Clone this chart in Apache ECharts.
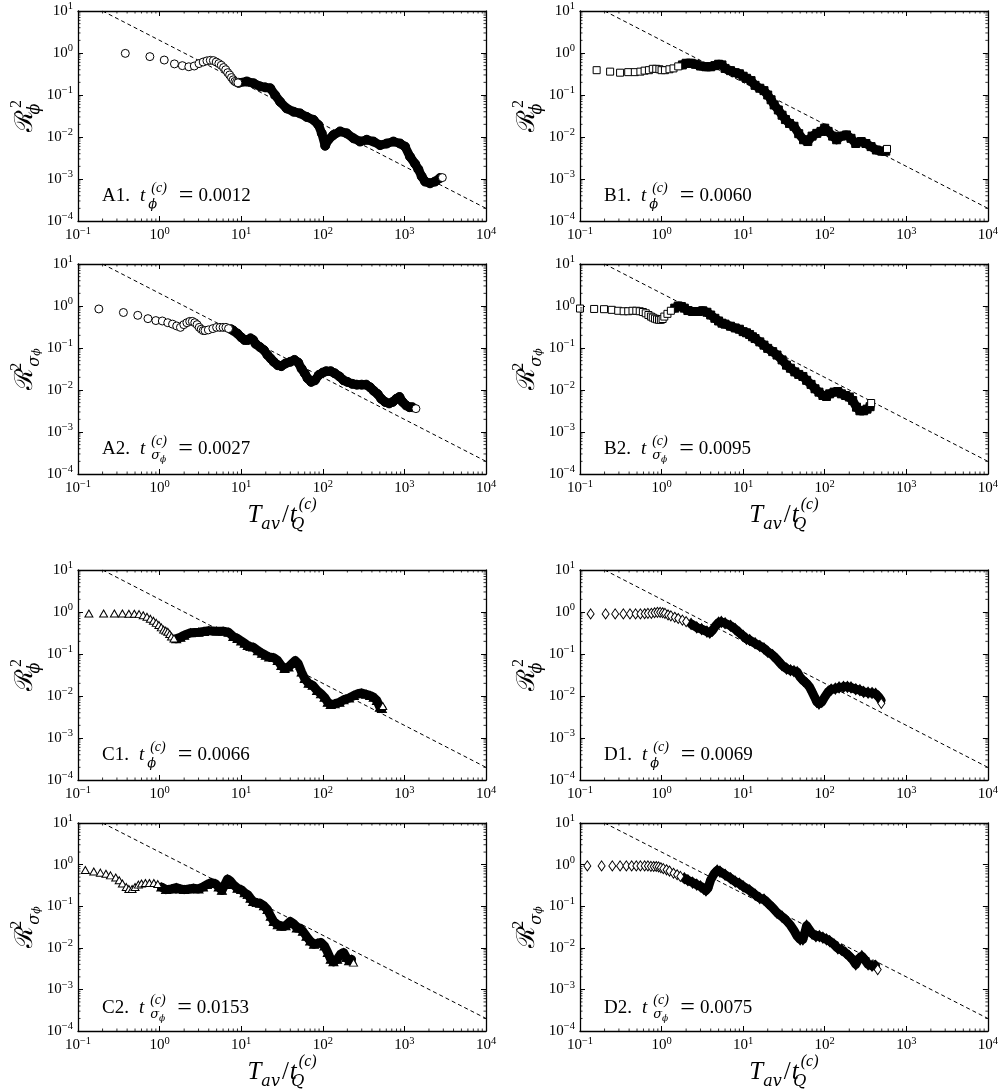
<!DOCTYPE html>
<html><head><meta charset="utf-8">
<script src="https://cdn.jsdelivr.net/npm/echarts@6/dist/echarts.min.js"></script>
<style>html,body{margin:0;padding:0;background:#fff}#c{width:1001px;height:1091px}</style>
</head><body><div id="c"></div>
<script>
// ---------- data ----------
const dashX = [0.2, 10000];
const dashY = [10, 0.0002];
const xTickValues = [0.1, 1, 10, 100, 1000, 10000];
const yTickValues = [0.0001, 0.001, 0.01, 0.1, 1, 10];

const A1_open = [[0.38,0.98],[0.76,0.82],[1.14,0.68],[1.52,0.55],[1.9,0.50],[2.28,0.47],[2.66,0.49],[3.04,0.56],[3.42,0.61],[3.8,0.65],[4.18,0.67],[4.56,0.66],[4.94,0.61],[5.32,0.56],[5.7,0.51],[6.08,0.45],[6.46,0.40],[6.84,0.34],[7.22,0.30],[7.6,0.26],[7.98,0.23],[8.36,0.21],[8.74,0.20],[9.12,0.195]];
const A1_band = [[9.3,0.195],[11.7,0.21],[14.2,0.19],[17.1,0.16],[19.7,0.152],[22.7,0.145],[26,0.10],[30,0.069],[36,0.048],[43.8,0.040],[52.7,0.0365],[63.6,0.030],[76.9,0.0256],[88.5,0.0193],[97.2,0.0122],[107,0.0062],[117,0.0086],[135,0.0112],[163,0.0136],[197,0.0122],[238,0.0093],[286,0.0078],[346,0.0086],[417,0.0078],[503,0.0064],[608,0.0070],[733,0.0078],[885,0.0070],[1019,0.0059],[1172,0.0034],[1352,0.0023],[1484,0.0017],[1630,0.00115],[1792,0.00087],[2061,0.00079],[2375,0.00087],[2736,0.00106]];
const A1_end = [[2917,0.00108]];

const B1_open = [[0.16,0.39],[0.234,0.36],[0.31,0.34],[0.39,0.35],[0.47,0.35],[0.55,0.36],[0.62,0.38],[0.70,0.39],[0.78,0.42],[0.86,0.42],[0.94,0.41],[1.0,0.39],[1.1,0.39],[1.25,0.41],[1.4,0.43],[1.6,0.48]];
const B1_band = [[1.8,0.52],[2.0,0.57],[2.3,0.57],[2.6,0.54],[3.0,0.49],[3.5,0.47],[4.0,0.47],[4.5,0.50],[5.0,0.54],[5.5,0.52],[6,0.43],[7,0.38],[8,0.34],[9,0.32],[10,0.28],[11,0.25],[12.5,0.22],[14,0.17],[16,0.145],[18,0.127],[20,0.10],[22,0.077],[24,0.058],[27,0.044],[30,0.033],[33,0.026],[37,0.021],[42,0.018],[48,0.012],[55,0.0086],[62,0.0078],[70,0.0105],[80,0.0122],[90,0.0136],[100,0.0162],[110,0.0136],[125,0.0105],[140,0.0086],[160,0.0105],[185,0.0112],[210,0.0093],[240,0.0070],[280,0.0078],[320,0.0070],[370,0.0059],[430,0.0049],[500,0.0046],[560,0.0046]];
const B1_end = [[580,0.0052]];

const A2_open = [[0.18,0.85],[0.36,0.70],[0.54,0.60],[0.72,0.50],[0.90,0.45],[1.08,0.44],[1.26,0.40],[1.44,0.37],[1.62,0.335],[1.8,0.31],[1.98,0.36],[2.16,0.40],[2.34,0.43],[2.52,0.43],[2.7,0.40],[2.88,0.36],[3.06,0.31],[3.24,0.28],[3.42,0.26],[3.6,0.26],[3.96,0.27],[4.5,0.29],[5,0.31],[5.5,0.31],[6,0.31],[6.5,0.31],[7,0.29]];
const A2_band = [[7.5,0.28],[8,0.26],[9,0.22],[10,0.18],[11,0.155],[12,0.155],[13,0.17],[14,0.155],[15,0.126],[17,0.105],[19,0.089],[21,0.068],[23,0.056],[25,0.047],[28,0.039],[31,0.037],[35,0.043],[40,0.047],[45,0.052],[50,0.045],[55,0.032],[60,0.025],[65,0.019],[72,0.0156],[80,0.017],[90,0.023],[100,0.026],[110,0.028],[125,0.028],[140,0.025],[160,0.021],[180,0.017],[200,0.0156],[230,0.014],[260,0.0134],[300,0.0134],[340,0.0134],[380,0.0116],[420,0.0096],[470,0.0080],[520,0.0062],[580,0.0052],[650,0.0048],[720,0.0052],[800,0.0062],[870,0.0068],[950,0.0052],[1050,0.0043],[1150,0.0039],[1250,0.0039]];
const A2_end = [[1384,0.0036]];

const B2_open = [[0.1,0.87],[0.149,0.85],[0.197,0.84],[0.245,0.81],[0.294,0.77],[0.343,0.75],[0.39,0.75],[0.44,0.77],[0.49,0.77],[0.54,0.75],[0.59,0.72],[0.64,0.67],[0.69,0.61],[0.74,0.56],[0.78,0.53],[0.83,0.50],[0.88,0.48],[0.93,0.47],[0.98,0.47],[1.03,0.49],[1.08,0.56],[1.18,0.65],[1.3,0.77]];
const B2_band = [[1.45,0.89],[1.6,1.0],[1.75,0.97],[1.9,0.89],[2.1,0.78],[2.4,0.74],[2.8,0.74],[3.2,0.77],[3.6,0.71],[4,0.61],[4.5,0.51],[5,0.44],[5.5,0.39],[6,0.37],[7,0.33],[8,0.30],[9,0.28],[10,0.245],[11,0.23],[12,0.21],[13,0.185],[14,0.168],[16,0.14],[18,0.117],[20,0.098],[23,0.082],[26,0.068],[30,0.052],[34,0.039],[38,0.033],[43,0.027],[48,0.0235],[54,0.021],[60,0.017],[68,0.0136],[76,0.0107],[85,0.0089],[95,0.0074],[105,0.0070],[115,0.0081],[130,0.0089],[145,0.0092],[160,0.0081],[180,0.0074],[200,0.0068],[220,0.0056],[245,0.0039],[270,0.0032],[300,0.0032],[330,0.0035],[360,0.0040]];
const B2_end = [[371,0.0049]];

const C1_open = [[0.136,0.92],[0.206,0.92],[0.279,0.92],[0.35,0.92],[0.42,0.91],[0.49,0.91],[0.56,0.89],[0.63,0.84],[0.70,0.77],[0.77,0.69],[0.84,0.62],[0.91,0.55],[0.98,0.49],[1.05,0.43],[1.12,0.38],[1.19,0.36],[1.26,0.34],[1.33,0.30],[1.4,0.26],[1.5,0.235]];
const C1_band = [[1.6,0.23],[1.8,0.25],[2.0,0.28],[2.4,0.32],[3,0.33],[3.5,0.345],[4,0.36],[5,0.35],[6,0.35],[7,0.33],[8,0.26],[9,0.235],[10,0.205],[11,0.18],[12,0.16],[13,0.15],[14,0.146],[16,0.12],[18,0.104],[20,0.093],[22,0.085],[25,0.082],[28,0.070],[31,0.053],[34,0.045],[38,0.049],[42,0.059],[46,0.070],[50,0.059],[55,0.037],[60,0.026],[67,0.020],[75,0.018],[85,0.0135],[95,0.0113],[105,0.0093],[115,0.0071],[125,0.0063],[140,0.0065],[160,0.0071],[180,0.0081],[210,0.0090],[240,0.0103],[270,0.0113],[300,0.0118],[340,0.0110],[380,0.0103],[420,0.0093],[460,0.0078],[500,0.0054],[530,0.0050]];
const C1_end = [[543,0.0058]];

const D1_open = [[0.135,0.90],[0.206,0.90],[0.27,0.90],[0.34,0.90],[0.41,0.90],[0.48,0.90],[0.55,0.90],[0.62,0.91],[0.68,0.93],[0.75,0.93],[0.82,0.96],[0.89,0.98],[0.96,0.98],[1.03,0.96],[1.1,0.93],[1.2,0.85],[1.3,0.81],[1.45,0.75],[1.6,0.70],[1.8,0.64],[2.0,0.59]];
const D1_band = [[2.3,0.52],[2.7,0.43],[3.1,0.39],[3.6,0.34],[3.9,0.32],[4.2,0.36],[4.6,0.47],[5.0,0.56],[5.4,0.58],[6,0.54],[7,0.47],[8,0.39],[9,0.32],[10,0.27],[11,0.23],[12,0.215],[14,0.18],[16,0.155],[18,0.136],[20,0.113],[23,0.094],[26,0.074],[30,0.054],[34,0.045],[38,0.041],[42,0.039],[46,0.037],[50,0.028],[55,0.023],[60,0.020],[65,0.0165],[70,0.0125],[75,0.0095],[80,0.0072],[85,0.0066],[92,0.0072],[100,0.0095],[110,0.0125],[120,0.0142],[135,0.015],[150,0.016],[170,0.0165],[190,0.0165],[210,0.016],[240,0.0145],[270,0.0138],[300,0.0125],[340,0.012],[380,0.0118],[420,0.0113],[460,0.0095],[490,0.0079]];
const D1_end = [[494,0.0067]];

const C2_open = [[0.123,0.74],[0.156,0.68],[0.188,0.64],[0.22,0.60],[0.25,0.55],[0.29,0.49],[0.32,0.42],[0.35,0.35],[0.39,0.29],[0.42,0.26],[0.46,0.26],[0.5,0.29],[0.55,0.33],[0.6,0.35],[0.67,0.36],[0.75,0.36],[0.85,0.36],[0.95,0.34]];
const C2_band = [[1.05,0.29],[1.2,0.25],[1.4,0.26],[1.6,0.28],[1.8,0.26],[2.0,0.25],[2.3,0.26],[2.6,0.27],[3.0,0.26],[3.4,0.29],[3.8,0.33],[4.3,0.37],[4.8,0.35],[5.3,0.29],[5.8,0.24],[6.3,0.33],[6.8,0.45],[7.3,0.41],[8,0.33],[9,0.27],[10,0.25],[11,0.21],[12,0.19],[13,0.155],[14,0.13],[15.5,0.122],[17,0.118],[19,0.102],[21,0.083],[23,0.057],[25,0.043],[28,0.036],[31,0.033],[35,0.034],[40,0.043],[44,0.038],[48,0.030],[52,0.030],[57,0.025],[63,0.019],[70,0.0146],[78,0.0122],[86,0.0129],[95,0.0134],[105,0.0111],[115,0.0077],[125,0.0053],[135,0.0046],[150,0.0053],[165,0.0070],[180,0.0077],[195,0.0058],[210,0.0049],[225,0.0053]];
const C2_end = [[238,0.0044]];

const D2_open = [[0.123,0.93],[0.184,0.93],[0.249,0.93],[0.31,0.93],[0.37,0.93],[0.43,0.93],[0.49,0.93],[0.55,0.93],[0.62,0.93],[0.68,0.93],[0.74,0.91],[0.80,0.90],[0.86,0.90],[0.92,0.88],[0.98,0.84],[1.05,0.80],[1.15,0.75],[1.25,0.70],[1.4,0.62],[1.55,0.57],[1.7,0.52]];
const D2_band = [[1.9,0.47],[2.1,0.42],[2.4,0.37],[2.7,0.33],[3.0,0.30],[3.3,0.26],[3.5,0.24],[3.7,0.27],[4.0,0.43],[4.4,0.60],[4.8,0.72],[5.2,0.68],[6,0.57],[7,0.47],[8,0.39],[9,0.35],[10,0.30],[12,0.24],[14,0.19],[16,0.157],[18,0.145],[20,0.12],[23,0.092],[26,0.070],[30,0.056],[34,0.045],[38,0.035],[42,0.026],[46,0.019],[50,0.016],[54,0.016],[57,0.023],[60,0.034],[64,0.028],[70,0.022],[78,0.019],[86,0.019],[95,0.0175],[105,0.016],[115,0.0145],[130,0.012],[145,0.0097],[160,0.0090],[180,0.0076],[200,0.0063],[220,0.0052],[240,0.0040],[260,0.0054],[285,0.0063],[310,0.0052],[340,0.0040],[380,0.0037],[420,0.0037]];
const D2_end = [[446,0.0030]];

const panelKeys = ['A1','B1','A2','B2','C1','D1','C2','D2'];
const panelTc = ['0.0012','0.0060','0.0027','0.0095','0.0066','0.0069','0.0153','0.0075'];
const panelKind = ['phi','phi','sigma','sigma','phi','phi','sigma','sigma'];
const panelOpen = [A1_open,B1_open,A2_open,B2_open,C1_open,D1_open,C2_open,D2_open];
const panelBand = [A1_band,B1_band,A2_band,B2_band,C1_band,D1_band,C2_band,D2_band];
const panelEnd = [A1_end,B1_end,A2_end,B2_end,C1_end,D1_end,C2_end,D2_end];

// ---------- layout / style ----------
const FONT = '"Liberation Serif","DejaVu Serif",serif';
const MFONT = '"DejaVu Serif","Liberation Serif",serif';
const colLeft = [78, 580];
const rowTop = [11, 264, 570, 823];
const GW = 408, GH = 210;
const symbols = {A:['circle',8], B:['rect',7], C:['triangle',[8,7]], D:['diamond',[7,10]]};

const minorX = [], minorY = [];
for (let d = -1; d < 4; d++) for (let k = 2; k < 10; k++) minorX.push(k * Math.pow(10, d));
for (let d = -4; d < 1; d++) for (let k = 2; k < 10; k++) minorY.push(k * Math.pow(10, d));

const tickRich = {
  b: {fontFamily: FONT, fontSize: 15, color: '#000', lineHeight: 19},
  e: {fontFamily: FONT, fontSize: 10.5, color: '#000', verticalAlign: 'top', height: 10}
};
function tickFmt(v) {
  const e = Math.round(Math.log10(v));
  return '{b|10}{e|' + String(e).replace('-', '\u2212') + '}';
}

const mathRich = {
  r: {fontFamily: FONT, fontSize: 19, color: '#000', lineHeight: 30},
  i: {fontFamily: FONT, fontSize: 19, fontStyle: 'italic', color: '#000', lineHeight: 30, padding: [0, 0, 0, 10]},
  eq: {fontFamily: FONT, fontSize: 26, color: '#000', lineHeight: 30, padding: [0, 5, 0, 12]},
  p: {fontFamily: FONT, fontSize: 14, fontStyle: 'italic', color: '#000', verticalAlign: 'top', height: 14, padding: [0, 0, 0, 3]},
  pz: {fontFamily: FONT, fontSize: 14, fontStyle: 'italic', color: '#000', verticalAlign: 'top', height: 14, width: 0, padding: [0, 0, 0, 6]},
  sz: {fontFamily: MFONT, fontSize: 13, fontStyle: 'italic', color: '#000', verticalAlign: 'bottom', height: 13, width: 0, padding: [0, 0, 0, 3]},
  s: {fontFamily: MFONT, fontSize: 13, fontStyle: 'italic', color: '#000', verticalAlign: 'bottom', height: 13, padding: [0, 0, 2, 0]},
  ss: {fontFamily: MFONT, fontSize: 9, fontStyle: 'italic', color: '#000', verticalAlign: 'bottom', height: 9}
};
const nameRich = {
  R: {fontFamily: MFONT, fontSize: 25, color: '#000', lineHeight: 34},
  T: {fontFamily: FONT, fontSize: 25, fontStyle: 'italic', color: '#000', lineHeight: 36},
  n: {fontFamily: FONT, fontSize: 25, color: '#000', lineHeight: 36, padding: [0, 1, 0, 2]},
  p: {fontFamily: FONT, fontSize: 16, fontStyle: 'italic', color: '#000', verticalAlign: 'top', height: 16, padding: [0, 0, 0, 1]},
  p2: {fontFamily: FONT, fontSize: 16, color: '#000', verticalAlign: 'top', height: 16, padding: [0, 0, 0, 1]},
  pz: {fontFamily: FONT, fontSize: 16, color: '#000', verticalAlign: 'top', height: 16, width: 0, padding: [0, 0, 0, 1]},
  s: {fontFamily: MFONT, fontSize: 16, fontStyle: 'italic', color: '#000', verticalAlign: 'bottom', height: 16},
  sz: {fontFamily: MFONT, fontSize: 16, fontStyle: 'italic', color: '#000', verticalAlign: 'bottom', height: 16, width: 0, padding: [0, 0, 0, 1]},
  ss: {fontFamily: MFONT, fontSize: 11, fontStyle: 'italic', color: '#000', verticalAlign: 'bottom', height: 11}
};

const grid = [], xAxis = [], yAxis = [], series = [], title = [];
const axisLine = {show: true, onZero: false, lineStyle: {color: '#000', width: 1.3}};
const axisTick = {show: true, inside: true, length: 5, lineStyle: {color: '#000', width: 1}};

panelKeys.forEach((key, i) => {
  const col = i % 2, row = Math.floor(i / 2);
  const left = colLeft[col], top = rowTop[row];
  grid.push({left: left, top: top, width: GW, height: GH, containLabel: false});
  const withXName = (row === 1 || row === 3);
  const sym = symbols[key[0]];
  xAxis.push({
    type: 'log', logBase: 10, min: 0.1, max: 10000, gridIndex: i, position: 'bottom',
    axisLine, axisTick, splitLine: {show: false},
    axisLabel: {formatter: tickFmt, rich: tickRich, margin: 5, showMinLabel: true, showMaxLabel: true},
    name: withXName ? '{T|T}{s|av}{n|/}{T|t}{sz|Q}{p|(c)}' : '',
    nameLocation: 'middle', nameGap: 23,
    nameTextStyle: {rich: nameRich}
  });
  xAxis.push({
    type: 'log', logBase: 10, min: 0.1, max: 10000, gridIndex: i, position: 'top',
    axisLine, axisTick, splitLine: {show: false}, axisLabel: {show: false}
  });
  yAxis.push({
    type: 'log', logBase: 10, min: 0.0001, max: 10, gridIndex: i, position: 'left',
    axisLine, axisTick, splitLine: {show: false},
    axisLabel: {formatter: tickFmt, rich: tickRich, margin: 5, showMinLabel: true, showMaxLabel: true},
    name: panelKind[i] === 'phi' ? '{R|\u211B}{sz|\u03D5}{p2|2}' : '{R|\u211B}{pz|2}{s|\u03C3}{ss|\u03D5}',
    nameLocation: 'middle', nameRotate: 90, nameGap: 34,
    nameTextStyle: {rich: nameRich}
  });
  yAxis.push({
    type: 'log', logBase: 10, min: 0.0001, max: 10, gridIndex: i, position: 'right',
    axisLine, axisTick, splitLine: {show: false}, axisLabel: {show: false}
  });
  const xi = 2 * i, yi = 2 * i;
  series.push({
    type: 'line', xAxisIndex: xi, yAxisIndex: yi, silent: true, z: 2,
    data: dashX.map((x, k) => [x, dashY[k]]), symbol: 'none',
    lineStyle: {color: '#000', width: 1, type: [4, 3]}
  });
  series.push({
    type: 'line', xAxisIndex: xi, yAxisIndex: yi, silent: true, z: 3,
    data: panelBand[i], symbol: sym[0], symbolSize: Array.isArray(sym[1]) ? sym[1].map(v => v + 1) : sym[1] + 1,
    showSymbol: true, showAllSymbol: true,
    itemStyle: {color: '#000', borderColor: '#000', borderWidth: 1},
    lineStyle: {color: '#000', width: 9, join: 'round', cap: 'round'}
  });
  series.push({
    type: 'scatter', xAxisIndex: xi, yAxisIndex: yi, silent: true, z: 4,
    data: panelOpen[i].concat(panelEnd[i]), symbol: sym[0], symbolSize: sym[1],
    itemStyle: {color: '#fff', borderColor: '#000', borderWidth: 1, opacity: 1}
  });
  series.push({
    type: 'custom', xAxisIndex: xi, yAxisIndex: yi, silent: true, z: 5,
    data: [[1, 1]],
    renderItem: function (params, api) {
      const ch = [];
      const st = {stroke: '#000', lineWidth: 0.8};
      minorX.forEach(v => {
        const b = api.coord([v, 0.0001]), t = api.coord([v, 10]);
        ch.push({type: 'line', shape: {x1: b[0], y1: b[1], x2: b[0], y2: b[1] - 2.5}, style: st});
        ch.push({type: 'line', shape: {x1: t[0], y1: t[1], x2: t[0], y2: t[1] + 2.5}, style: st});
      });
      minorY.forEach(v => {
        const l = api.coord([0.1, v]), r = api.coord([10000, v]);
        ch.push({type: 'line', shape: {x1: l[0], y1: l[1], x2: l[0] + 2.5, y2: l[1]}, style: st});
        ch.push({type: 'line', shape: {x1: r[0], y1: r[1], x2: r[0] - 2.5, y2: r[1]}, style: st});
      });
      return {type: 'group', children: ch};
    }
  });
  const ann = panelKind[i] === 'phi'
    ? '{r|' + key + '.}{i|t}{sz|\u03D5}{p|(c)}{eq|=}{r|' + panelTc[i] + '}'
    : '{r|' + key + '.}{i|t}{pz|(c)}{s|\u03C3}{ss|\u03D5}{eq|=}{r|' + panelTc[i] + '}';
  title.push({
    text: ann, left: left + 24, top: top + 170, padding: 0,
    textStyle: {rich: mathRich, fontFamily: FONT, fontSize: 19, fontWeight: 'normal', color: '#000'}
  });
});

const chart = echarts.init(document.getElementById('c'), null, {renderer: 'canvas'});
chart.setOption({
  animation: false, backgroundColor: '#fff',
  title, grid, xAxis, yAxis, series
});
</script>
</body></html>
